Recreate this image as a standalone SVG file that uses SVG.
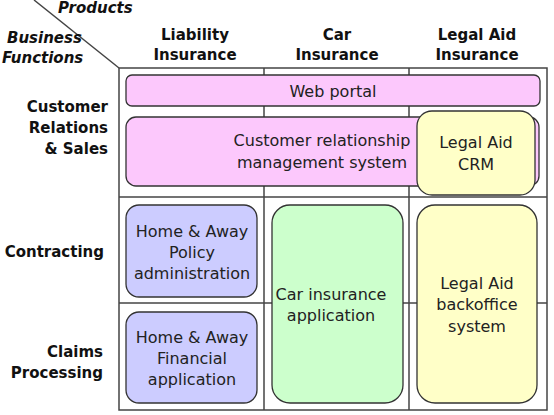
<svg xmlns="http://www.w3.org/2000/svg" width="554" height="415" viewBox="0 0 554 415">
<style>
.hdr{font-family:"DejaVu Sans",sans-serif;font-weight:bold;font-size:15px;fill:#111}
.hi{font-family:"DejaVu Sans",sans-serif;font-weight:bold;font-style:italic;font-size:15px;fill:#111}
.t{font-family:"DejaVu Sans",sans-serif;font-size:16px;fill:#222;text-anchor:middle}
.grid{stroke:#444;stroke-width:1.5;fill:none}
.box{stroke:#333;stroke-width:1.3}
</style>
<rect width="554" height="415" fill="#fff"/>
<g id="grid">
<line class="grid" x1="34" y1="0" x2="119" y2="68"/>
<rect class="grid" x="119" y="68" width="428" height="342"/>
<line class="grid" x1="264" y1="68" x2="264" y2="410"/>
<line class="grid" x1="409" y1="68" x2="409" y2="410"/>
<line class="grid" x1="119" y1="197" x2="547" y2="197"/>
<line class="grid" x1="119" y1="303" x2="547" y2="303"/>
</g>
<g id="headers">
<text class="hi" x="58" y="13">Products</text>
<text class="hi" x="7" y="43">Business</text>
<text class="hi" x="2" y="63">Functions</text>
<text class="hdr" text-anchor="middle" x="195" y="40">Liability</text>
<text class="hdr" text-anchor="middle" x="195" y="60">Insurance</text>
<text class="hdr" text-anchor="middle" x="337" y="40">Car</text>
<text class="hdr" text-anchor="middle" x="337" y="60">Insurance</text>
<text class="hdr" text-anchor="middle" x="477" y="40">Legal Aid</text>
<text class="hdr" text-anchor="middle" x="477" y="60">Insurance</text>
<text class="hdr" text-anchor="end" x="108" y="112">Customer</text>
<text class="hdr" text-anchor="end" x="108" y="133">Relations</text>
<text class="hdr" text-anchor="end" x="108" y="154">&amp; Sales</text>
<text class="hdr" text-anchor="end" x="104" y="257">Contracting</text>
<text class="hdr" text-anchor="end" x="103" y="357">Claims</text>
<text class="hdr" text-anchor="end" x="103" y="378">Processing</text>
</g>
<g id="web-portal">
<rect class="box" x="126" y="75" width="414" height="31" rx="6" fill="#fcc8fc"/>
<text class="t" x="333" y="97">Web portal</text>
</g>
<g id="crm">
<rect class="box" x="126" y="117" width="413" height="69" rx="10" fill="#fcc8fc"/>
<text class="t" x="322" y="146">Customer relationship</text>
<text class="t" x="322" y="168">management system</text>
</g>
<g id="legal-aid-crm">
<rect class="box" x="417" y="111" width="118" height="84" rx="15" fill="#ffffc8"/>
<text class="t" x="476" y="148">Legal Aid</text>
<text class="t" x="476" y="170">CRM</text>
</g>
<g id="policy-admin">
<rect class="box" x="126" y="205" width="131" height="92" rx="13" fill="#ccccff"/>
<text class="t" x="192" y="237">Home &amp; Away</text>
<text class="t" x="192" y="258">Policy</text>
<text class="t" x="192" y="279">administration</text>
</g>
<g id="financial-app">
<rect class="box" x="126" y="312" width="131" height="91" rx="13" fill="#ccccff"/>
<text class="t" x="192" y="343">Home &amp; Away</text>
<text class="t" x="192" y="364">Financial</text>
<text class="t" x="192" y="385">application</text>
</g>
<g id="car-app">
<rect class="box" x="272" y="205" width="131" height="198" rx="18" fill="#ccffcc"/>
<text class="t" x="331" y="300">Car insurance</text>
<text class="t" x="331" y="321">application</text>
</g>
<g id="legal-aid-backoffice">
<rect class="box" x="417" y="205" width="120" height="198" rx="18" fill="#ffffc8"/>
<text class="t" x="477" y="289">Legal Aid</text>
<text class="t" x="477" y="310">backoffice</text>
<text class="t" x="477" y="332">system</text>
</g>
<g id="connectors"></g>
</svg>
